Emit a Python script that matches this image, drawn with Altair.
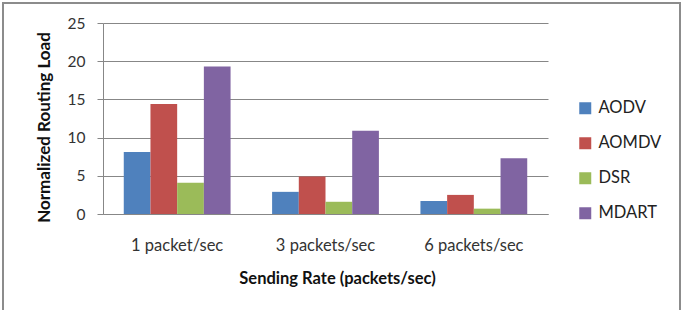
import altair as alt
import pandas as pd

# Normalized routing load per protocol at each sending rate
rates = ["1 packet/sec", "3 packets/sec", "6 packets/sec"]
protocols = ["AODV", "AOMDV", "DSR", "MDART"]
aodv = [8.1, 2.9, 1.7]
aomdv = [14.4, 4.9, 2.5]
dsr = [4.1, 1.6, 0.7]
mdart = [19.3, 10.9, 7.3]
colors = ["#4F81BD", "#C0504D", "#9BBB59", "#8064A2"]

rows = []
for name, vals in zip(protocols, [aodv, aomdv, dsr, mdart]):
    for rate, v in zip(rates, vals):
        rows.append({"rate": rate, "protocol": name, "load": v})
df = pd.DataFrame(rows)

FONT = "Lato"

bars = alt.Chart(df).mark_bar().encode(
    x=alt.X("rate:N", sort=rates,
            title="Sending Rate (packets/sec)",
            scale=alt.Scale(paddingInner=0.28, paddingOuter=0.14),
            axis=alt.Axis(labelAngle=0, ticks=False, domain=True,
                          domainColor="#878787", labelPadding=23,
                          labelFontSize=16.5, labelColor="#333333",
                          titleFontSize=16.5, titleFontWeight="bold",
                          titleColor="#111111", titlePadding=17, labelFont=FONT,
                          titleFont=FONT, titleX=234, titleAlign="center")),
    xOffset=alt.XOffset("protocol:N", sort=protocols,
                        scale=alt.Scale(paddingInner=0, paddingOuter=0)),
    y=alt.Y("load:Q", title="Normalized Routing Load",
            scale=alt.Scale(domain=[0, 25], nice=False),
            axis=alt.Axis(values=[0, 5, 10, 15, 20, 25], grid=True,
                          gridColor="#878787", tickColor="#878787", tickSize=6,
                          domain=True, domainColor="#878787",
                          labelFontSize=15.5, labelColor="#333333", labelPadding=12,
                          titleFontSize=17, titleFontWeight="bold",
                          titleColor="#111111", titlePadding=14, labelFont=FONT,
                          titleFont=FONT, titleY=104, titleAlign="center")),
    color=alt.Color("protocol:N", sort=protocols,
                    scale=alt.Scale(domain=protocols, range=colors),
                    legend=alt.Legend(title=None, orient="none", legendX=474,
                                      legendY=77, symbolType="square",
                                      symbolSize=144, symbolStrokeWidth=0,
                                      labelFontSize=16.5, labelFont=FONT,
                                      labelColor="#222222", rowPadding=18,
                                      labelOffset=5)),
)

# thin grey frame around the whole figure
frame = alt.Chart(pd.DataFrame({"k": [0]})).mark_rect(
    fill=None, stroke="#8c8c8c", strokeWidth=2, clip=False
).encode(x=alt.value(-100), x2=alt.value(577), y=alt.value(-20), y2=alt.value(294))

chart = alt.layer(bars, frame).properties(
    width=445, height=191,
    autosize=alt.AutoSizeParams(type="none"),
    padding={"left": 103, "top": 23, "right": 137, "bottom": 96},
    background="white",
).configure_view(stroke=None)

chart.save("out.html", embed_options={"renderer": "svg", "actions": False})
